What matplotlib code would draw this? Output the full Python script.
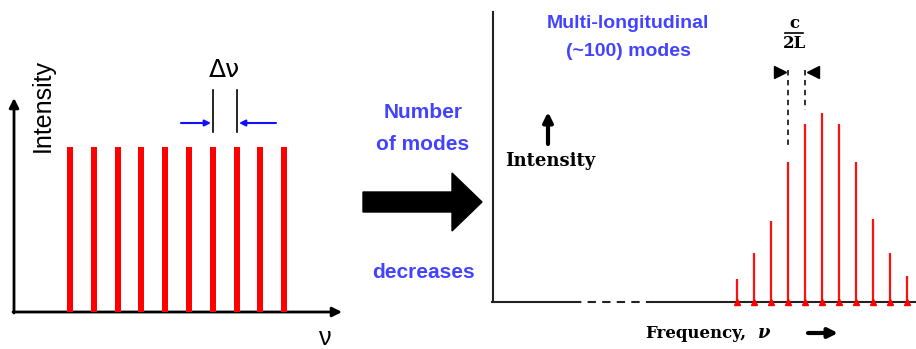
import numpy as np
import matplotlib.pyplot as plt
from matplotlib.patches import FancyArrow

# left sketch: few modes, all equal intensity
few_modes = [0, 1, 2, 3, 4, 5, 6, 7, 8, 9]
few_intensity = [1, 1, 1, 1, 1, 1, 1, 1, 1, 1]

# right sketch: many modes under a gain envelope (relative intensity)
many_modes = [-5, -4, -3, -2, -1, 0, 1, 2, 3, 4, 5]
many_intensity = [0.12, 0.26, 0.43, 0.74, 0.94, 1.0, 0.94, 0.74, 0.44, 0.26, 0.14]

blue = "#4343ff"
W, H = 916, 349

fig = plt.figure(figsize=(W / 100, H / 100), dpi=100)

# overlay in pixel coordinates for the drawing bits
ax = fig.add_axes([0, 0, 1, 1])
ax.set_xlim(0, W)
ax.set_ylim(H, 0)
ax.axis("off")


def fig_rect(x0, x1, ytop, ybot):
    return [x0 / W, 1 - ybot / H, (x1 - x0) / W, (ybot - ytop) / H]


# ---- left panel ----
axl = fig.add_axes(fig_rect(40, 320, 147, 312))
pitch_l = 23.8
axl.set_xlim((40 - 70) / pitch_l, (320 - 70) / pitch_l)
axl.set_ylim(0, 1)
axl.axis("off")
axl.bar(few_modes, few_intensity, width=0.26, color="#ff0000", align="center")

ax.annotate("", xy=(14, 98), xytext=(14, 313),
            arrowprops=dict(arrowstyle="-|>", lw=2, color="black",
                            mutation_scale=14, shrinkA=0, shrinkB=0))
ax.annotate("", xy=(342, 312), xytext=(13, 312),
            arrowprops=dict(arrowstyle="-|>", lw=2, color="black",
                            mutation_scale=14, shrinkA=0, shrinkB=0))
ax.text(43, 105, "Intensity", rotation=90, ha="center", va="center",
        fontsize=18, family="Liberation Sans")
ax.text(325, 338, "ν", ha="center", va="center", fontsize=18,
        family="Liberation Sans")

ax.text(224, 70, "Δν", ha="center", va="center", fontsize=18,
        family="DejaVu Sans")
ax.plot([213, 213], [90, 132], color="black", lw=1.2)
ax.plot([237, 237], [90, 132], color="black", lw=1.2)
ax.annotate("", xy=(211, 123), xytext=(181, 123),
            arrowprops=dict(arrowstyle="-|>", lw=1.5, color="#1010ff",
                            mutation_scale=9, shrinkA=0, shrinkB=0))
ax.annotate("", xy=(239, 123), xytext=(276, 123),
            arrowprops=dict(arrowstyle="-|>", lw=1.5, color="#1010ff",
                            mutation_scale=9, shrinkA=0, shrinkB=0))

# ---- middle ----
ax.text(423, 113, "Number", ha="center", va="center", fontsize=15,
        fontweight="bold", color=blue, family="Liberation Sans")
ax.text(423, 145, "of modes", ha="center", va="center", fontsize=15,
        fontweight="bold", color=blue, family="Liberation Sans")
ax.text(423, 272, "decreases", ha="center", va="center", fontsize=15,
        fontweight="bold", color=blue, family="Liberation Sans")
ax.add_patch(FancyArrow(363, 202, 119, 0, width=20, head_width=58,
                        head_length=30, length_includes_head=True,
                        color="black"))

# ---- right panel ----
base = 302
ax.plot([493, 493], [12, base], color="#222222", lw=1.5)
ax.plot([492, 573], [base, base], color="#222222", lw=1.5)
ax.plot([573, 652], [base, base], color="#222222", lw=1.5, ls=(0, (4, 3)))
ax.plot([652, 916], [base, base], color="#222222", lw=1.5)

axr = fig.add_axes(fig_rect(720, 916, 113, base))
pitch_r = 17.0
axr.set_xlim((720 - 822) / pitch_r, (916 - 822) / pitch_r)
axr.set_ylim(0, 1)
axr.axis("off")
axr.vlines(many_modes, 0, many_intensity, color="#ff1010", lw=1.6)
axr.plot(many_modes, np.zeros(len(many_modes)), ls="none", marker="^",
         color="#ff0000", markersize=4, clip_on=False)

ax.text(628, 24, "Multi-longitudinal", ha="center", va="center",
        fontsize=14, fontweight="bold", color=blue, family="Liberation Sans")
ax.text(628, 52, "(~100) modes", ha="center", va="center",
        fontsize=14, fontweight="bold", color=blue, family="Liberation Sans")

ax.annotate("", xy=(548, 112), xytext=(548, 144),
            arrowprops=dict(arrowstyle="-|>", lw=3, color="black",
                            mutation_scale=14, shrinkA=0, shrinkB=0))
ax.text(550, 161, "Intensity", ha="center", va="center", fontsize=13,
        fontweight="bold", family="DejaVu Serif")

# c/2L spacing marker
ax.plot([788, 788], [70, 147], color="#222222", lw=1.3, ls=(0, (3, 2.5)))
ax.plot([805, 805], [70, 110], color="#222222", lw=1.3, ls=(0, (3, 2.5)))
ax.plot([780], [72], marker=">", color="black", markersize=9)
ax.plot([813], [72], marker="<", color="black", markersize=9)
ax.text(794, 23, "c", ha="center", va="center", fontsize=12,
        fontweight="bold", family="DejaVu Serif")
ax.plot([785, 803], [33, 33], color="black", lw=1.2)
ax.text(794, 44, "2L", ha="center", va="center", fontsize=12,
        fontweight="bold", family="DejaVu Serif")

ax.text(645, 333, "Frequency,", ha="left", va="center", fontsize=12,
        fontweight="bold", family="DejaVu Serif")
ax.text(758, 333, "ν", ha="left", va="center", fontsize=13,
        fontweight="bold", style="italic", family="DejaVu Serif")
ax.annotate("", xy=(838, 333), xytext=(808, 333),
            arrowprops=dict(arrowstyle="-|>", lw=3, color="black",
                            mutation_scale=14, shrinkA=0, shrinkB=0))

fig.savefig("out.png", dpi=100)
